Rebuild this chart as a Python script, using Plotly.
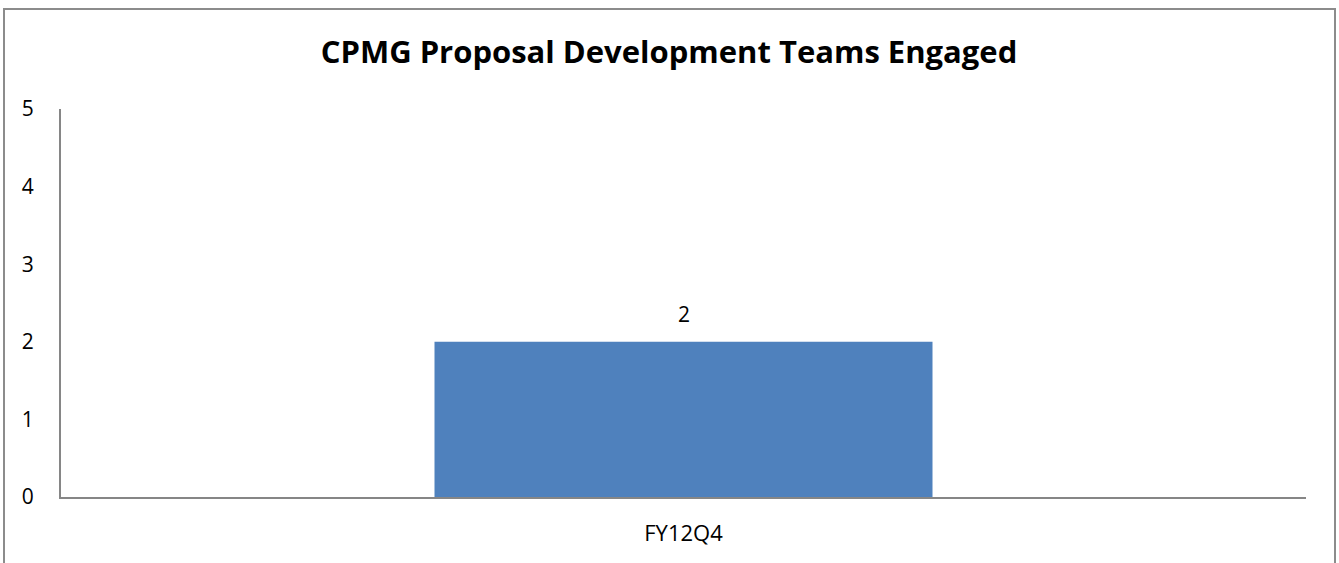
import plotly.graph_objects as go

categories = ["FY12Q4"]
values = [2]
y_ticks = [0, 1, 2, 3, 4, 5]
title_text = "CPMG Proposal Development Teams Engaged"

W, H = 1339, 563
L, R, T, B = 61, 33, 109, 66
pw = W - L - R
ph = H - T - B
FONT = "Open Sans, Liberation Sans, sans-serif"

fig = go.Figure()
fig.add_trace(go.Bar(
    x=categories, y=values,
    marker=dict(color="#4F81BD", line=dict(width=0)),
    hoverinfo="skip",
))
for c, v in zip(categories, values):
    fig.add_annotation(x=c, y=v, text=str(v), showarrow=False, yanchor="bottom",
                       yshift=12, font=dict(family=FONT, size=21, color="#000"))

border_color = "#8c8c8c"
fig.add_shape(type="rect", xref="paper", yref="paper",
              x0=(4 - L) / pw, x1=(1335 - L) / pw,
              y0=(H - B - 700) / ph, y1=(H - B - 9) / ph,
              line=dict(color=border_color, width=2), fillcolor="rgba(0,0,0,0)", layer="below")

fig.update_layout(
    width=W, height=H,
    margin=dict(l=L, r=R, t=T, b=B, pad=0),
    paper_bgcolor="white", plot_bgcolor="white",
    bargap=0.6,
    showlegend=False,
    title=dict(text="<b>" + title_text + "</b>", x=669 / W, xanchor="center",
               y=1 - 52 / H, yanchor="middle",
               font=dict(family=FONT, size=31, color="#000")),
    xaxis=dict(showline=True, linecolor="#868686", linewidth=2, showgrid=False,
               ticks="", ticklabelstandoff=16, zeroline=False,
               tickfont=dict(family=FONT, size=22, color="#000")),
    yaxis=dict(range=[0, 5], tickvals=y_ticks, showline=True, linecolor="#868686", linewidth=2,
               showgrid=False, zeroline=False, ticks="", ticklabelstandoff=21,
               tickfont=dict(family=FONT, size=21, color="#000")),
)

fig.write_html("out.html", config={"displayModeBar": False},
               post_script="document.body.style.margin='0';document.body.style.overflow='hidden';")
